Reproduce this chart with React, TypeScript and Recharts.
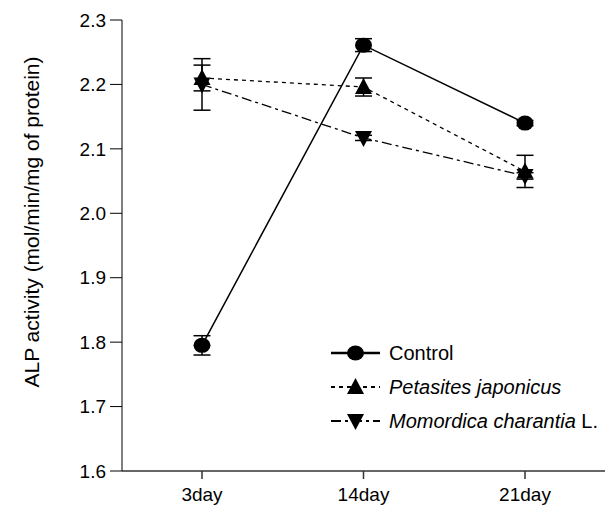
import { LineChart, Line, XAxis, YAxis, ErrorBar } from 'recharts';

const days = ['3day', '14day', '21day'];
const control = [1.795, 2.261, 2.14];
const controlErr = [0.015, 0.01, 0.004];
const petasites = [2.21, 2.196, 2.065];
const petasitesErr = [0.02, 0.014, 0.025];
const momordica = [2.2, 2.117, 2.058];
const momordicaErr = [0.04, 0.004, 0.005];
const yTicks = [1.6, 1.7, 1.8, 1.9, 2.0, 2.1, 2.2, 2.3];

const data = days.map((day, i) => ({
  day,
  control: control[i],
  controlErr: controlErr[i],
  petasites: petasites[i],
  petasitesErr: petasitesErr[i],
  momordica: momordica[i],
  momordicaErr: momordicaErr[i],
}));

const FONT = '"Liberation Sans", Arial, sans-serif';

const Circle = ({ cx, cy }: any) => <ellipse cx={cx} cy={cy} rx={8.5} ry={7.5} fill="#000" />;
const TriUp = ({ cx, cy }: any) => (
  <polygon points={`${cx},${cy - 9} ${cx - 8.5},${cy + 7} ${cx + 8.5},${cy + 7}`} fill="#000" />
);
const TriDown = ({ cx, cy }: any) => (
  <polygon points={`${cx},${cy + 9} ${cx - 8.5},${cy - 7} ${cx + 8.5},${cy - 7}`} fill="#000" />
);

const series = [
  { key: 'control', dash: undefined, width: 1.5, Marker: Circle, label: <>Control</> },
  { key: 'petasites', dash: '4 4', width: 1.3, Marker: TriUp, label: <i>Petasites japonicus</i> },
  {
    key: 'momordica',
    dash: '10 4 3 4',
    width: 1.3,
    Marker: TriDown,
    label: (
      <>
        <i>Momordica charantia</i> L.
      </>
    ),
  },
];

// legend sits inside the plot, bottom right
function LegendBox() {
  return (
    <div style={{ position: 'absolute', left: 331, top: 336, fontFamily: FONT, fontSize: 20, color: '#000', whiteSpace: 'nowrap' }}>
      {series.map((s) => (
        <div key={s.key} style={{ display: 'flex', alignItems: 'center', height: 34 }}>
          <svg width={50} height={20}>
            <line x1={0} y1={10} x2={49} y2={10} stroke="#000" strokeWidth={s.key === 'control' ? 2.5 : 2} strokeDasharray={s.dash} />
            <s.Marker cx={24.5} cy={10} />
          </svg>
          <span style={{ marginLeft: 8 }}>{s.label}</span>
        </div>
      ))}
    </div>
  );
}

export default function App() {
  return (
    <div style={{ position: 'absolute', left: 0, top: 0, width: 611, height: 513, background: '#fff' }}>
      <LineChart width={611} height={513} data={data} margin={{ top: 20, right: 6, bottom: 0, left: 62 }}>
        <XAxis
          dataKey="day"
          padding={{ left: 80, right: 80 }}
          height={42}
          tickSize={8}
          tickMargin={9}
          stroke="#333"
          strokeWidth={1.5}
          tick={{ fill: '#000', fontSize: 19, fontFamily: FONT }}
        />
        <YAxis
          domain={[1.6, 2.3]}
          ticks={yTicks}
          width={60}
          tickSize={12}
          tickMargin={4}
          stroke="#000"
          tickFormatter={(v: number) => v.toFixed(1)}
          tick={{ fill: '#000', fontSize: 19, fontFamily: FONT }}
          label={{
            content: () => (
              <text
                x={31}
                y={222}
                transform="rotate(-90, 31, 222)"
                textAnchor="middle"
                dominantBaseline="central"
                fontSize={21}
                fontFamily={FONT}
                fill="#000"
              >
                ALP activity (mol/min/mg of protein)
              </text>
            ),
          }}
        />
        {series.map((s) => (
          <Line
            key={s.key}
            dataKey={s.key}
            stroke="#000"
            strokeWidth={s.width}
            strokeDasharray={s.dash}
            dot={(p: any) => <s.Marker key={`${s.key}-${p.index}`} cx={p.cx} cy={p.cy} />}
            activeDot={false}
            isAnimationActive={false}
          >
            <ErrorBar dataKey={`${s.key}Err`} direction="y" width={8.5} stroke="#000" strokeWidth={1.5} isAnimationActive={false} />
          </Line>
        ))}
      </LineChart>
      <LegendBox />
    </div>
  );
}
